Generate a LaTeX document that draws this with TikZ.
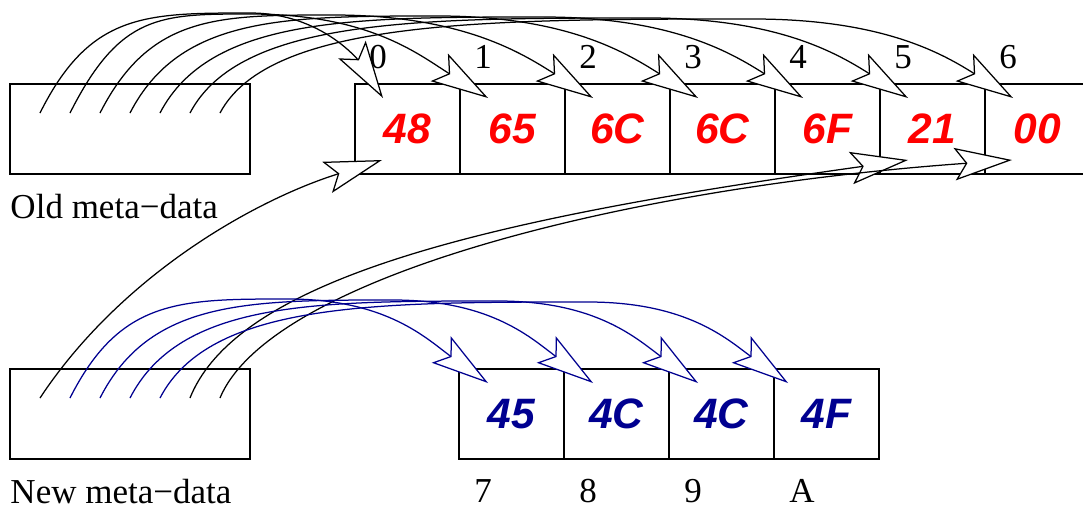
\documentclass[tikz,border=0pt]{standalone}
\usepackage{fontspec}
\setmainfont{Liberation Serif}
\newfontfamily\hexfont{Liberation Sans}
\usetikzlibrary{positioning,arrows.meta,calc}
\definecolor{hexred}{RGB}{255,0,0}
\definecolor{hexblue}{RGB}{0,0,144}
\tikzset{
  mem arrow/.style={-{Stealth[length=23pt,width=13pt,inset=4.5pt,fill=white]},line width=0.5pt},
  mem old link/.style={mem arrow,draw=black},
  mem new link/.style={mem arrow,draw=hexblue},
  mem cell/.style={draw=black,line width=0.5pt,minimum width=42pt,minimum height=36pt,
    inner sep=0pt,outer sep=0pt,font=\hexfont\bfseries\itshape\fontsize{17}{17}\selectfont},
  mem old cell/.style={mem cell,text=hexred},
  mem new cell/.style={mem cell,text=hexblue},
  mem meta/.style={draw=black,line width=0.5pt,minimum width=96pt,minimum height=36pt,
    inner sep=0pt,outer sep=0pt},
  mem index/.style={font=\fontsize{14}{14}\selectfont,inner sep=0pt},
  mem caption/.style={font=\fontsize{14}{14}\selectfont,inner sep=0pt,anchor=base west}
}

\begin{document}
\begin{tikzpicture}[x=0.4pt,y=-0.4pt]
  \useasboundingbox (0,0) rectangle (1083,507);

  % Meta-data blocks with their captions.
  \node[mem meta] (oldmeta) at (130,129) {};
  \node[mem meta] (newmeta) at (130,414) {};
  \node[mem caption] (oldcap) at (10,218) {Old meta−data};
  \node[mem caption] (newcap) at (10,503) {New meta−data};

  % Old byte array (the last cell runs off the page).
  \node[mem old cell] (o0) at (407.5,129) {48};
  \node[mem old cell,right=0pt of o0] (o1) {65};
  \node[mem old cell,right=0pt of o1] (o2) {6C};
  \node[mem old cell,right=0pt of o2] (o3) {6C};
  \node[mem old cell,right=0pt of o3] (o4) {6F};
  \node[mem old cell,right=0pt of o4] (o5) {21};
  \node[mem old cell,right=0pt of o5] (o6) {00};

  % Appended bytes.
  \node[mem new cell] (n0) at (511.5,414) {45};
  \node[mem new cell,right=0pt of n0] (n1) {4C};
  \node[mem new cell,right=0pt of n1] (n2) {4C};
  \node[mem new cell,right=0pt of n2] (n3) {4F};

  % Pointer origins inside the meta-data blocks.
  \foreach \k in {0,...,6} {
    \coordinate (os\k) at ($(oldmeta.north west)+(30+30*\k,29)$);
    \coordinate (ns\k) at ($(newmeta.north west)+(30+30*\k,29)$);
  }

  % Old meta-data points at every old byte.
  \draw[mem old link] (os0) .. controls +(50,-100) and +(-105,0) .. (250,13)
    .. controls +(80,0) and +(-16,-25) .. ($(o0.north west)+(28,14)$);
  \draw[mem old link] (os1) .. controls +(50,-99) and +(-90,0) .. (250,14)
    .. controls +(119,0) and +(-70,-44) .. ($(o1.north west)+(28,14)$);
  \draw[mem old link] (os2) .. controls +(50,-98) and +(-116,0) .. (333,15)
    .. controls +(130,0) and +(-70,-44) .. ($(o2.north west)+(28,14)$);
  \draw[mem old link] (os3) .. controls +(50,-97) and +(-154,0) .. (438,16)
    .. controls +(130,0) and +(-70,-44) .. ($(o3.north west)+(28,14)$);
  \draw[mem old link] (os4) .. controls +(50,-96) and +(-191,0) .. (543,17)
    .. controls +(130,0) and +(-70,-44) .. ($(o4.north west)+(28,14)$);
  \draw[mem old link] (os5) .. controls +(50,-95) and +(-229,0) .. (648,18)
    .. controls +(130,0) and +(-70,-44) .. ($(o5.north west)+(28,14)$);
  \draw[mem old link] (os6) .. controls +(50,-94) and +(-266,0) .. (753,19)
    .. controls +(130,0) and +(-70,-44) .. ($(o6.north west)+(28,14)$);

  % New meta-data re-uses bytes 0, 5 and 6 ...
  \draw[mem old link] (ns0) .. controls +(80,-121) and +(-130,41) .. ($(o0.south west)+(27,-14)$);
  \draw[mem old link] (ns5) .. controls +(50,-125) and +(-399,56) .. ($(o5.south west)+(28,-14)$);
  \draw[mem old link] (ns6) .. controls +(50,-120) and +(-392,28) .. ($(o6.south west)+(27,-14)$);

  % ... and points at the appended bytes.
  \draw[mem new link] (ns1) .. controls +(50,-99) and +(-109,0) .. (288,299)
    .. controls +(100,0) and +(-60,-43) .. ($(n0.north west)+(29,14)$);
  \draw[mem new link] (ns2) .. controls +(50,-98) and +(-146,0) .. (393,300)
    .. controls +(100,0) and +(-60,-43) .. ($(n1.north west)+(29,14)$);
  \draw[mem new link] (ns3) .. controls +(50,-97) and +(-184,0) .. (498,301)
    .. controls +(100,0) and +(-60,-43) .. ($(n2.north west)+(29,14)$);
  \draw[mem new link] (ns4) .. controls +(50,-96) and +(-214,0) .. (588,302)
    .. controls +(100,0) and +(-60,-43) .. ($(n3.north west)+(14,14)$);

  % Byte offsets.
  \node[mem index] (i0) at ($(o0.north west)+(23,-27)$) {0};
  \node[mem index] (i1) at ($(o1.north west)+(23,-27)$) {1};
  \node[mem index] (i2) at ($(o2.north west)+(23,-27)$) {2};
  \node[mem index] (i3) at ($(o3.north west)+(23,-27)$) {3};
  \node[mem index] (i4) at ($(o4.north west)+(23,-27)$) {4};
  \node[mem index] (i5) at ($(o5.north west)+(23,-27)$) {5};
  \node[mem index] (i6) at ($(o6.north west)+(23,-27)$) {6};
  \node[mem index] (i7) at ($(n0.south west)+(24,32)$) {7};
  \node[mem index] (i8) at ($(n1.south west)+(24,32)$) {8};
  \node[mem index] (i9) at ($(n2.south west)+(24,32)$) {9};
  \node[mem index] (iA) at ($(n3.south west)+(28,32)$) {A};
\end{tikzpicture}
\end{document}
